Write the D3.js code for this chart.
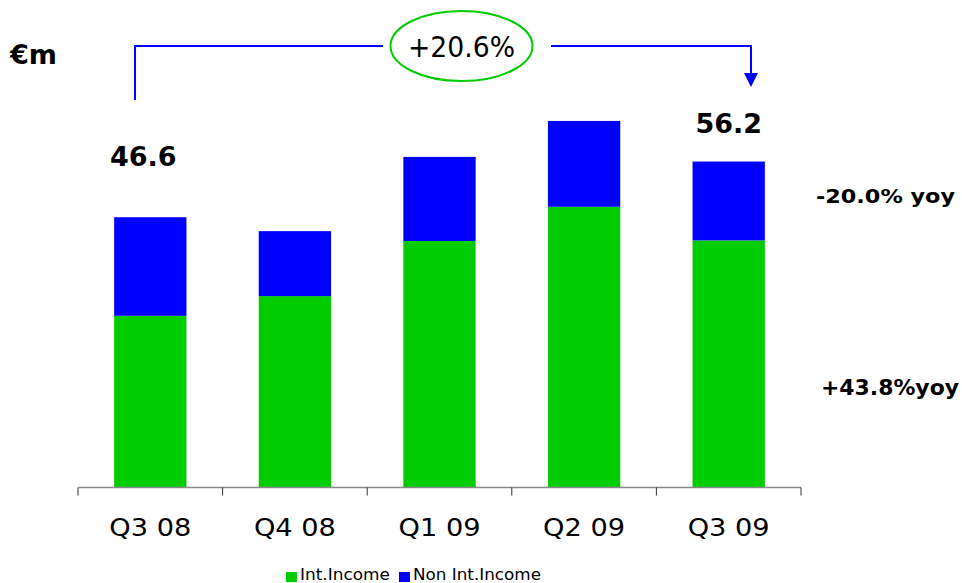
<!DOCTYPE html>
<html>
<head>
<meta charset="utf-8">
<script src="https://cdn.jsdelivr.net/npm/d3@7"></script>
<style>
  html, body { margin: 0; padding: 0; background: #fff; }
  svg { display: block; font-family: "DejaVu Sans", Verdana, sans-serif; }
</style>
</head>
<body>
<svg id="chart" width="962" height="583"></svg>
<script>
// Quarterly income split, € millions
const quarters = ["Q3 08", "Q4 08", "Q1 09", "Q2 09", "Q3 09"];
const intIncome = [29.6, 33.0, 42.5, 48.4, 42.6];
const nonIntIncome = [17.0, 11.2, 14.5, 14.8, 13.6];
const totalLabels = [{ idx: 0, text: "46.6" }, { idx: 4, text: "56.2" }];
const seriesNames = ["Int.Income", "Non Int.Income"];
const seriesColors = ["#00cc00", "#0000ff"];
const growthLabel = "+20.6%";
const yoyLabels = ["-20.0% yoy", "+43.8%yoy"];

const svg = d3.select("#chart");

const x = d3.scaleBand().domain(quarters).range([78, 801]).paddingInner(0.5).paddingOuter(0.25);
const y = d3.scaleLinear().domain([0, 60]).range([487.5, 139.5]);

const rows = quarters.map((q, i) => ({ q, int: intIncome[i], non: nonIntIncome[i] }));
const stack = d3.stack().keys(["int", "non"])(rows);

svg.append("g").selectAll("g")
  .data(stack).join("g")
  .attr("fill", (d, i) => seriesColors[i])
  .selectAll("rect")
  .data(d => d).join("rect")
  .attr("x", d => x(d.data.q))
  .attr("width", x.bandwidth())
  .attr("y", d => y(d[1]))
  .attr("height", d => y(d[0]) - y(d[1]));

// Category axis with ticks between bars
const axisG = svg.append("g").attr("transform", "translate(0,487.5)");
axisG.append("line").attr("x1", 78).attr("x2", 801).attr("stroke", "#888").attr("stroke-width", 1.5);
const tickXs = d3.range(quarters.length + 1).map(i => 78 + i * x.step());
axisG.selectAll("line.tick").data(tickXs).join("line")
  .attr("class", "tick")
  .attr("x1", d => d).attr("x2", d => d)
  .attr("y1", 0).attr("y2", 8)
  .attr("stroke", "#333").attr("stroke-width", 1);
axisG.selectAll("text").data(quarters).join("text")
  .attr("x", d => x(d) + x.bandwidth() / 2)
  .attr("y", 48)
  .attr("text-anchor", "middle")
  .attr("font-size", 24)
  .attr("textLength", 82)
  .attr("lengthAdjust", "spacingAndGlyphs")
  .attr("fill", "#000")
  .text(d => d);

// Unit label
svg.append("text").attr("x", 10).attr("y", 64)
  .attr("font-size", 26).attr("font-weight", "bold")
  .attr("textLength", 47).attr("lengthAdjust", "spacingAndGlyphs").text("€m");

// Totals above first and last bars
svg.selectAll("text.total").data(totalLabels).join("text")
  .attr("class", "total")
  .attr("x", d => x(quarters[d.idx]) + x.bandwidth() / 2 - (d.idx === 0 ? 7 : 0))
  .attr("y", d => y(intIncome[d.idx] + nonIntIncome[d.idx]) - (d.idx === 0 ? 51 : 29))
  .attr("text-anchor", "middle")
  .attr("font-size", 27).attr("font-weight", "bold")
  .text(d => d.text);

// Growth bracket from first to last quarter
const xL = 135, xR = 751, yB = 46;
const blue = "#0000ff";
svg.append("path")
  .attr("d", `M${xL},100 L${xL},${yB} L383,${yB}`)
  .attr("fill", "none").attr("stroke", blue).attr("stroke-width", 2);
svg.append("path")
  .attr("d", `M551,${yB} L${xR},${yB} L${xR},74`)
  .attr("fill", "none").attr("stroke", blue).attr("stroke-width", 2);
svg.append("path")
  .attr("d", `M${xR - 7},73 L${xR + 7},73 L${xR},87 Z`)
  .attr("fill", blue);
svg.append("ellipse")
  .attr("cx", 461.5).attr("cy", 46).attr("rx", 71).attr("ry", 35)
  .attr("fill", "none").attr("stroke", "#00cc00").attr("stroke-width", 2);
svg.append("text").attr("x", 461.5).attr("y", 57)
  .attr("text-anchor", "middle").attr("font-size", 29)
  .attr("textLength", 107).attr("lengthAdjust", "spacingAndGlyphs").text(growthLabel);

// Year-on-year changes by component
svg.append("text").attr("x", 816).attr("y", 203)
  .attr("font-size", 20).attr("font-weight", "bold")
  .attr("textLength", 139).attr("lengthAdjust", "spacingAndGlyphs").text(yoyLabels[0]);
svg.append("text").attr("x", 821).attr("y", 395)
  .attr("font-size", 21).attr("font-weight", "bold")
  .attr("textLength", 138).attr("lengthAdjust", "spacingAndGlyphs").text(yoyLabels[1]);

// Legend
const legend = svg.append("g");
const legendX = [286, 399];
const legendW = [90, 128];
seriesNames.forEach((name, i) => {
  legend.append("rect").attr("x", legendX[i]).attr("y", 572)
    .attr("width", 11).attr("height", 10).attr("fill", seriesColors[i]);
  legend.append("text").attr("x", legendX[i] + 14).attr("y", 580)
    .attr("font-size", 15)
    .attr("textLength", legendW[i]).attr("lengthAdjust", "spacingAndGlyphs").text(name);
});
</script>
</body>
</html>
